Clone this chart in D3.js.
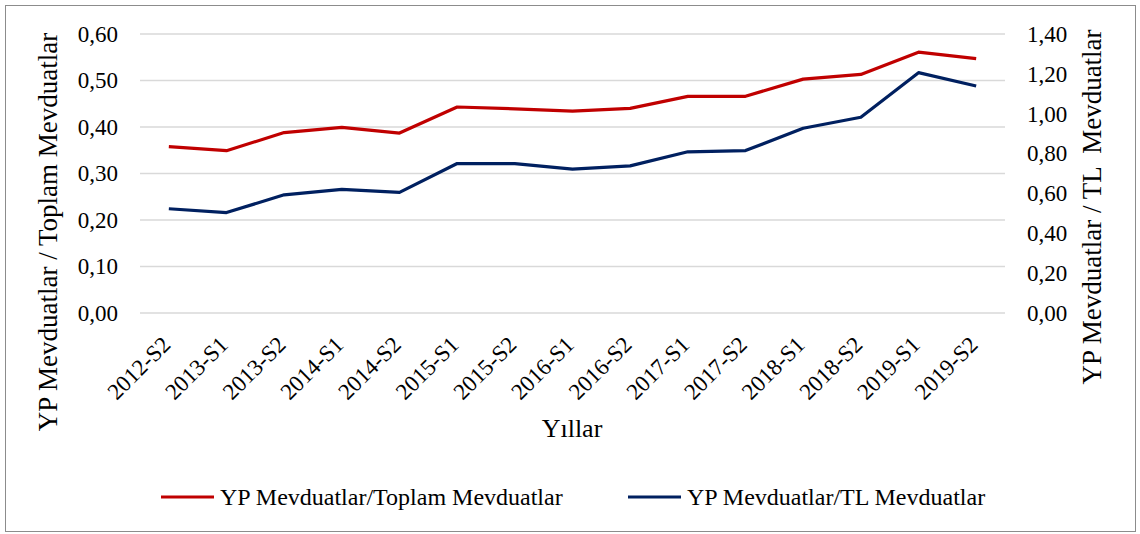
<!DOCTYPE html>
<html>
<head>
<meta charset="utf-8">
<script src="https://cdn.jsdelivr.net/npm/d3@7"></script>
<style>
  body { margin: 0; background: #fff; }
  svg text { font-family: "Liberation Serif", "Times New Roman", serif; fill: #000; }
</style>
</head>
<body>
<svg id="chart" width="1140" height="534"></svg>
<script>
const periods = ['2012-S2', '2013-S1', '2013-S2', '2014-S1', '2014-S2', '2015-S1', '2015-S2', '2016-S1',
  '2016-S2', '2017-S1', '2017-S2', '2018-S1', '2018-S2', '2019-S1', '2019-S2'];

// YP Mevduatlar / Toplam Mevduatlar (sol eksen)
const ypToplam = [0.358, 0.349, 0.388, 0.399, 0.387, 0.443, 0.439, 0.434, 0.440, 0.466, 0.466, 0.503, 0.513, 0.561, 0.547];
// YP Mevduatlar / TL Mevduatlar (sağ eksen)
const ypTL = [0.523, 0.504, 0.593, 0.620, 0.605, 0.750, 0.750, 0.722, 0.738, 0.809, 0.815, 0.927, 0.982, 1.206, 1.139];

const leftTicks = [0, 0.1, 0.2, 0.3, 0.4, 0.5, 0.6];
const rightTicks = [0, 0.2, 0.4, 0.6, 0.8, 1.0, 1.2, 1.4];

const seriesNames = ['YP Mevduatlar/Toplam Mevduatlar', 'YP Mevduatlar/TL Mevduatlar'];
const colors = ['#C00000', '#002060'];

const svg = d3.select('#chart');
const plot = { left: 140, right: 1005, top: 34, bottom: 313 };

const fmt = d => d.toFixed(2).replace('.', ',');

// outer border
svg.append('rect').attr('x', 5.5).attr('y', 5.5).attr('width', 1130).attr('height', 526)
  .attr('fill', 'none').attr('stroke', '#8c8c8c').attr('stroke-width', 1);

const x = d3.scaleBand().domain(periods).range([plot.left, plot.right]);
const yL = d3.scaleLinear().domain([0, 0.6]).range([plot.bottom, plot.top]);
const yR = d3.scaleLinear().domain([0, 1.4]).range([plot.bottom, plot.top]);

// gridlines
svg.append('g').selectAll('line').data(leftTicks).join('line')
  .attr('x1', plot.left).attr('x2', plot.right)
  .attr('y1', d => yL(d)).attr('y2', d => yL(d))
  .attr('stroke', '#d9d9d9').attr('stroke-width', 1.5);

// left axis
const axL = svg.append('g').attr('transform', `translate(${plot.left},0)`)
  .call(d3.axisLeft(yL).tickValues(leftTicks).tickFormat(fmt).tickSize(0).tickPadding(22));
axL.select('.domain').remove();
axL.selectAll('text').style('font-size', '23px');

// right axis
const axR = svg.append('g').attr('transform', `translate(${plot.right},0)`)
  .call(d3.axisRight(yR).tickValues(rightTicks).tickFormat(fmt).tickSize(0).tickPadding(22));
axR.select('.domain').remove();
axR.selectAll('text').style('font-size', '23px');

// x axis
const axX = svg.append('g').attr('transform', `translate(0,${plot.bottom})`)
  .call(d3.axisBottom(x).tickSize(0).tickPadding(0));
axX.select('.domain').remove();
axX.selectAll('text')
  .style('font-size', '23px')
  .attr('text-anchor', 'end')
  .attr('dy', null).attr('y', 0)
  .attr('transform', 'translate(3,33) rotate(-45)');

// lines
const lineL = d3.line().x((d, i) => x(periods[i]) + x.bandwidth() / 2).y(d => yL(d));
const lineR = d3.line().x((d, i) => x(periods[i]) + x.bandwidth() / 2).y(d => yR(d));

svg.append('path').datum(ypToplam).attr('d', lineL)
  .attr('fill', 'none').attr('stroke', colors[0]).attr('stroke-width', 3.2).attr('stroke-linejoin', 'round');
svg.append('path').datum(ypTL).attr('d', lineR)
  .attr('fill', 'none').attr('stroke', colors[1]).attr('stroke-width', 3.2).attr('stroke-linejoin', 'round');

// axis titles
svg.append('text').attr('transform', 'translate(57,232) rotate(-90)')
  .attr('text-anchor', 'middle').style('font-size', '27px')
  .text('YP Mevduatlar / Toplam Mevduatlar');
svg.append('text').attr('transform', 'translate(1101,207) rotate(-90)')
  .attr('text-anchor', 'middle').style('font-size', '27px').attr('xml:space', 'preserve')
  .text('YP Mevduatlar / TL  Mevduatlar');
svg.append('text').attr('x', 572).attr('y', 437)
  .attr('text-anchor', 'middle').style('font-size', '26px')
  .text('Yıllar');

// legend
const legendX = [161, 628];
const legend = svg.append('g').selectAll('g').data(seriesNames).join('g')
  .attr('transform', (d, i) => `translate(${legendX[i]},497)`);
legend.append('line').attr('x1', 0).attr('x2', 53).attr('y1', 0).attr('y2', 0)
  .attr('stroke', (d, i) => colors[i]).attr('stroke-width', 3.2);
legend.append('text').attr('x', 59).attr('y', 8).style('font-size', '24px').text(d => d);
</script>
</body>
</html>
